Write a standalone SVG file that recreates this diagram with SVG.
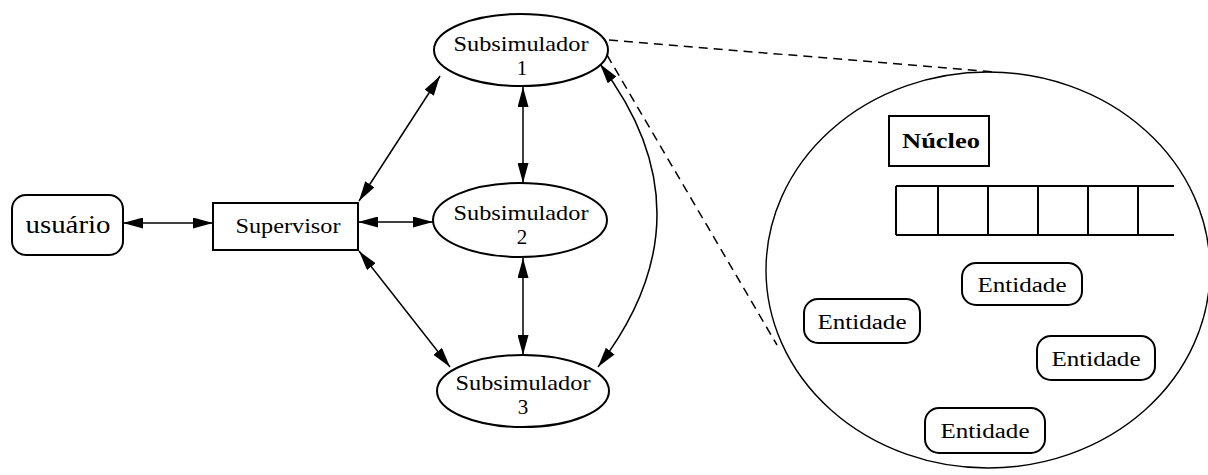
<svg xmlns="http://www.w3.org/2000/svg" width="1208" height="475" viewBox="0 0 1208 475">
  <style>
    .node { fill: #fff; stroke: #000; stroke-width: 2; }
    .txt { font-family: "Liberation Serif", "DejaVu Serif", serif; fill: #000; text-anchor: middle; }
    .conn { fill: none; stroke: #000; stroke-width: 1.5; }
    .dash { fill: none; stroke: #000; stroke-width: 1.5; stroke-dasharray: 9 6; }
    .thin { fill: none; stroke: #000; stroke-width: 1.4; }
  </style>
  <defs>
    <marker id="arrow" viewBox="0 0 20 11" refX="20" refY="5.5" markerWidth="20" markerHeight="11" markerUnits="userSpaceOnUse" orient="auto-start-reverse">
      <path d="M0,0 L20,5.5 L0,11 z" fill="#000"/>
    </marker>
  </defs>

  <rect width="1208" height="475" fill="#fff"/>

  <!-- connectors -->
  <g id="connectors">
    <line class="conn" x1="123" y1="223" x2="213" y2="223" marker-start="url(#arrow)" marker-end="url(#arrow)"/>
    <line class="conn" x1="358" y1="222" x2="433" y2="222" marker-start="url(#arrow)" marker-end="url(#arrow)"/>
    <line class="conn" x1="359" y1="201" x2="440" y2="76" marker-start="url(#arrow)" marker-end="url(#arrow)"/>
    <line class="conn" x1="359" y1="251" x2="450" y2="367" marker-start="url(#arrow)" marker-end="url(#arrow)"/>
    <line class="conn" x1="523" y1="87" x2="523" y2="183" marker-start="url(#arrow)" marker-end="url(#arrow)"/>
    <line class="conn" x1="523" y1="258" x2="523" y2="355" marker-start="url(#arrow)" marker-end="url(#arrow)"/>
    <path class="conn" d="M600,64 Q715,215 598,367" marker-start="url(#arrow)" marker-end="url(#arrow)"/>
    <!-- zoom lines to the detail view -->
    <line class="dash" x1="609" y1="40" x2="995" y2="72"/>
    <line class="dash" x1="607" y1="55" x2="777" y2="345"/>
  </g>

  <g id="usuario">
    <rect class="node" x="12" y="195" width="111" height="60" rx="14"/>
    <text class="txt" x="68" y="233" font-size="26" textLength="85" lengthAdjust="spacingAndGlyphs">usu&#xE1;rio</text>
  </g>

  <g id="supervisor">
    <rect class="node" x="213" y="203" width="145" height="47"/>
    <text class="txt" x="288" y="233" font-size="20" textLength="105" lengthAdjust="spacingAndGlyphs">Supervisor</text>
  </g>

  <g id="sub1">
    <ellipse class="node" cx="521" cy="50" rx="87" ry="36"/>
    <text class="txt" x="521" y="51" font-size="21" textLength="135" lengthAdjust="spacingAndGlyphs">Subsimulador</text>
    <text class="txt" x="522" y="75" font-size="21">1</text>
  </g>

  <g id="sub2">
    <ellipse class="node" cx="520" cy="220" rx="87" ry="37"/>
    <text class="txt" x="521" y="220" font-size="21" textLength="135" lengthAdjust="spacingAndGlyphs">Subsimulador</text>
    <text class="txt" x="522" y="244" font-size="21">2</text>
  </g>

  <g id="sub3">
    <ellipse class="node" cx="523" cy="391" rx="86" ry="36"/>
    <text class="txt" x="523" y="390" font-size="21" textLength="135" lengthAdjust="spacingAndGlyphs">Subsimulador</text>
    <text class="txt" x="523" y="414" font-size="21">3</text>
  </g>

  <g id="detail">
    <ellipse class="thin" cx="988" cy="270" rx="222" ry="198"/>
    <g id="nucleo">
      <rect class="node" x="889" y="116" width="100" height="50"/>
      <text class="txt" x="941" y="148" font-size="20" font-weight="bold" textLength="78" lengthAdjust="spacingAndGlyphs">N&#xFA;cleo</text>
    </g>
    <g id="fila">
      <line class="node" x1="896" y1="186" x2="1174" y2="186"/>
      <line class="node" x1="896" y1="235" x2="1174" y2="235"/>
      <line class="node" x1="896" y1="186" x2="896" y2="235"/>
      <line class="node" x1="938" y1="186" x2="938" y2="235"/>
      <line class="node" x1="988" y1="186" x2="988" y2="235"/>
      <line class="node" x1="1038" y1="186" x2="1038" y2="235"/>
      <line class="node" x1="1088" y1="186" x2="1088" y2="235"/>
      <line class="node" x1="1138" y1="186" x2="1138" y2="235"/>
    </g>
    <g id="entidade1">
      <rect class="node" x="962" y="263" width="120" height="42" rx="14"/>
      <text class="txt" x="1022" y="292" font-size="20" textLength="89" lengthAdjust="spacingAndGlyphs">Entidade</text>
    </g>
    <g id="entidade2">
      <rect class="node" x="804" y="299" width="116" height="44" rx="14"/>
      <text class="txt" x="862" y="329" font-size="20" textLength="89" lengthAdjust="spacingAndGlyphs">Entidade</text>
    </g>
    <g id="entidade3">
      <rect class="node" x="1037" y="336" width="118" height="44" rx="14"/>
      <text class="txt" x="1096" y="366" font-size="20" textLength="89" lengthAdjust="spacingAndGlyphs">Entidade</text>
    </g>
    <g id="entidade4">
      <rect class="node" x="925" y="408" width="120" height="45" rx="14"/>
      <text class="txt" x="985" y="438" font-size="20" textLength="89" lengthAdjust="spacingAndGlyphs">Entidade</text>
    </g>
  </g>
</svg>
